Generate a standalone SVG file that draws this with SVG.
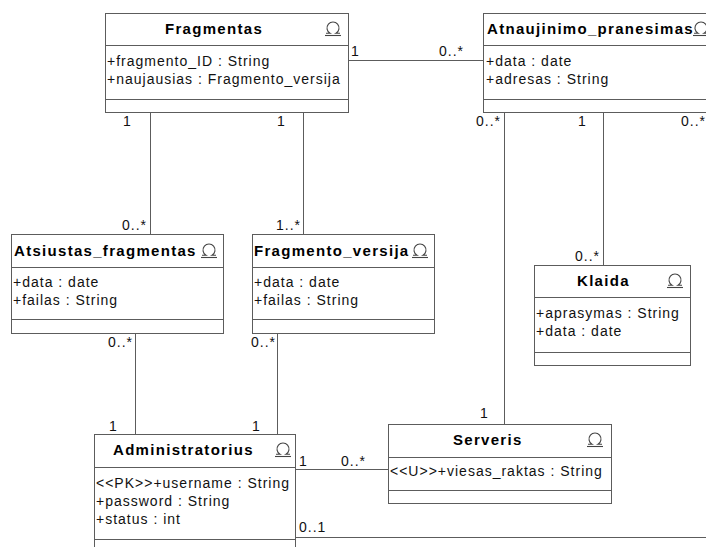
<svg xmlns="http://www.w3.org/2000/svg" width="706" height="547" viewBox="0 0 706 547">
  <style>
    .box { fill: #ffffff; stroke: #5c5c5c; stroke-width: 1; shape-rendering: crispEdges; }
    .sep { stroke: #5c5c5c; stroke-width: 1; shape-rendering: crispEdges; }
    .conn { fill: none; stroke: #5c5c5c; stroke-width: 1; shape-rendering: crispEdges; }
    .title { font-family: "Liberation Sans", Arial, sans-serif; font-weight: bold; font-size: 15px; letter-spacing: 1.3px; fill: #000; }
    .attr { font-family: "Liberation Sans", Arial, sans-serif; font-size: 14px; letter-spacing: 1px; fill: #111; }
    .mult { font-family: "Liberation Sans", Arial, sans-serif; font-size: 14px; letter-spacing: 1px; fill: #111; }
    .icon { fill: none; stroke: #444; stroke-width: 1.1; }
  </style>
  <defs>
    <!-- class-kind marker: open circle on a baseline -->
    <g id="cls-icon" class="icon">
      <path d="M-7,5.2 H-3 A6,6 0 1 1 3,5.2 H7"/>
      <line x1="-8" y1="7.5" x2="8" y2="7.5"/>
    </g>
  </defs>
  <rect width="706" height="547" fill="#ffffff"/>

  <!-- associations -->
  <g id="connectors">
    <path class="conn" d="M348,60 H483"/>
    <path class="conn" d="M150,112 V234"/>
    <path class="conn" d="M303,112 V234"/>
    <path class="conn" d="M135,333 V434"/>
    <path class="conn" d="M277,333 V434"/>
    <path class="conn" d="M295,469 H388"/>
    <path class="conn" d="M504,112 V424"/>
    <path class="conn" d="M603,112 V265"/>
    <path class="conn" d="M295,537 H706"/>
    <text class="mult" x="351" y="56">1</text>
    <text class="mult" x="439" y="56">0..*</text>
    <text class="mult" x="123" y="126">1</text>
    <text class="mult" x="122" y="230">0..*</text>
    <text class="mult" x="277" y="126">1</text>
    <text class="mult" x="276" y="230">1..*</text>
    <text class="mult" x="476" y="126">0..*</text>
    <text class="mult" x="578" y="126">1</text>
    <text class="mult" x="681" y="126">0..*</text>
    <text class="mult" x="575" y="261">0..*</text>
    <text class="mult" x="108" y="347">0..*</text>
    <text class="mult" x="251" y="347">0..*</text>
    <text class="mult" x="109" y="431">1</text>
    <text class="mult" x="252" y="431">1</text>
    <text class="mult" x="480" y="418">1</text>
    <text class="mult" x="299" y="466">1</text>
    <text class="mult" x="341" y="466">0..*</text>
    <text class="mult" x="299" y="532">0..1</text>
  </g>

  <g id="Fragmentas">
    <rect class="box" x="105" y="13" width="243" height="99"/>
    <line class="sep" x1="105" y1="45" x2="348" y2="45"/>
    <line class="sep" x1="105" y1="99" x2="348" y2="99"/>
    <text class="title" x="165" y="34">Fragmentas</text>
    <use href="#cls-icon" x="333" y="28"/>
    <text class="attr" x="107" y="66">+fragmento_ID : String</text>
    <text class="attr" x="107" y="84">+naujausias : Fragmento_versija</text>
  </g>

  <g id="Atnaujinimo_pranesimas">
    <rect class="box" x="483" y="13" width="240" height="99"/>
    <line class="sep" x1="483" y1="45" x2="723" y2="45"/>
    <line class="sep" x1="483" y1="99" x2="723" y2="99"/>
    <text class="title" x="487" y="34">Atnaujinimo_pranesimas</text>
    <use href="#cls-icon" x="701" y="28"/>
    <text class="attr" x="486" y="66">+data : date</text>
    <text class="attr" x="486" y="84">+adresas : String</text>
  </g>

  <g id="Atsiustas_fragmentas">
    <rect class="box" x="11" y="234" width="212" height="99"/>
    <line class="sep" x1="11" y1="267" x2="223" y2="267"/>
    <line class="sep" x1="11" y1="319" x2="223" y2="319"/>
    <text class="title" x="14" y="256">Atsiustas_fragmentas</text>
    <use href="#cls-icon" x="209" y="250"/>
    <text class="attr" x="13" y="287">+data : date</text>
    <text class="attr" x="13" y="305">+failas : String</text>
  </g>

  <g id="Fragmento_versija">
    <rect class="box" x="252" y="234" width="182" height="99"/>
    <line class="sep" x1="252" y1="267" x2="434" y2="267"/>
    <line class="sep" x1="252" y1="319" x2="434" y2="319"/>
    <text class="title" x="254" y="256">Fragmento_versija</text>
    <use href="#cls-icon" x="420" y="250"/>
    <text class="attr" x="254" y="287">+data : date</text>
    <text class="attr" x="254" y="305">+failas : String</text>
  </g>

  <g id="Klaida">
    <rect class="box" x="534" y="265" width="156" height="100"/>
    <line class="sep" x1="534" y1="297" x2="690" y2="297"/>
    <line class="sep" x1="534" y1="352" x2="690" y2="352"/>
    <text class="title" x="577" y="286">Klaida</text>
    <use href="#cls-icon" x="675" y="280"/>
    <text class="attr" x="536" y="318">+aprasymas : String</text>
    <text class="attr" x="536" y="336">+data : date</text>
  </g>

  <g id="Administratorius">
    <rect class="box" x="94" y="434" width="201" height="130"/>
    <line class="sep" x1="94" y1="467" x2="295" y2="467"/>
    <line class="sep" x1="94" y1="539" x2="295" y2="539"/>
    <text class="title" x="113" y="455">Administratorius</text>
    <use href="#cls-icon" x="283" y="449"/>
    <text class="attr" x="96" y="488">&lt;&lt;PK&gt;&gt;+username : String</text>
    <text class="attr" x="96" y="506">+password : String</text>
    <text class="attr" x="96" y="524">+status : int</text>
  </g>

  <g id="Serveris">
    <rect class="box" x="388" y="424" width="223" height="79"/>
    <line class="sep" x1="388" y1="457" x2="611" y2="457"/>
    <line class="sep" x1="388" y1="490" x2="611" y2="490"/>
    <text class="title" x="453" y="445">Serveris</text>
    <use href="#cls-icon" x="595" y="439"/>
    <text class="attr" x="390" y="476">&lt;&lt;U&gt;&gt;+viesas_raktas : String</text>
  </g>
</svg>
